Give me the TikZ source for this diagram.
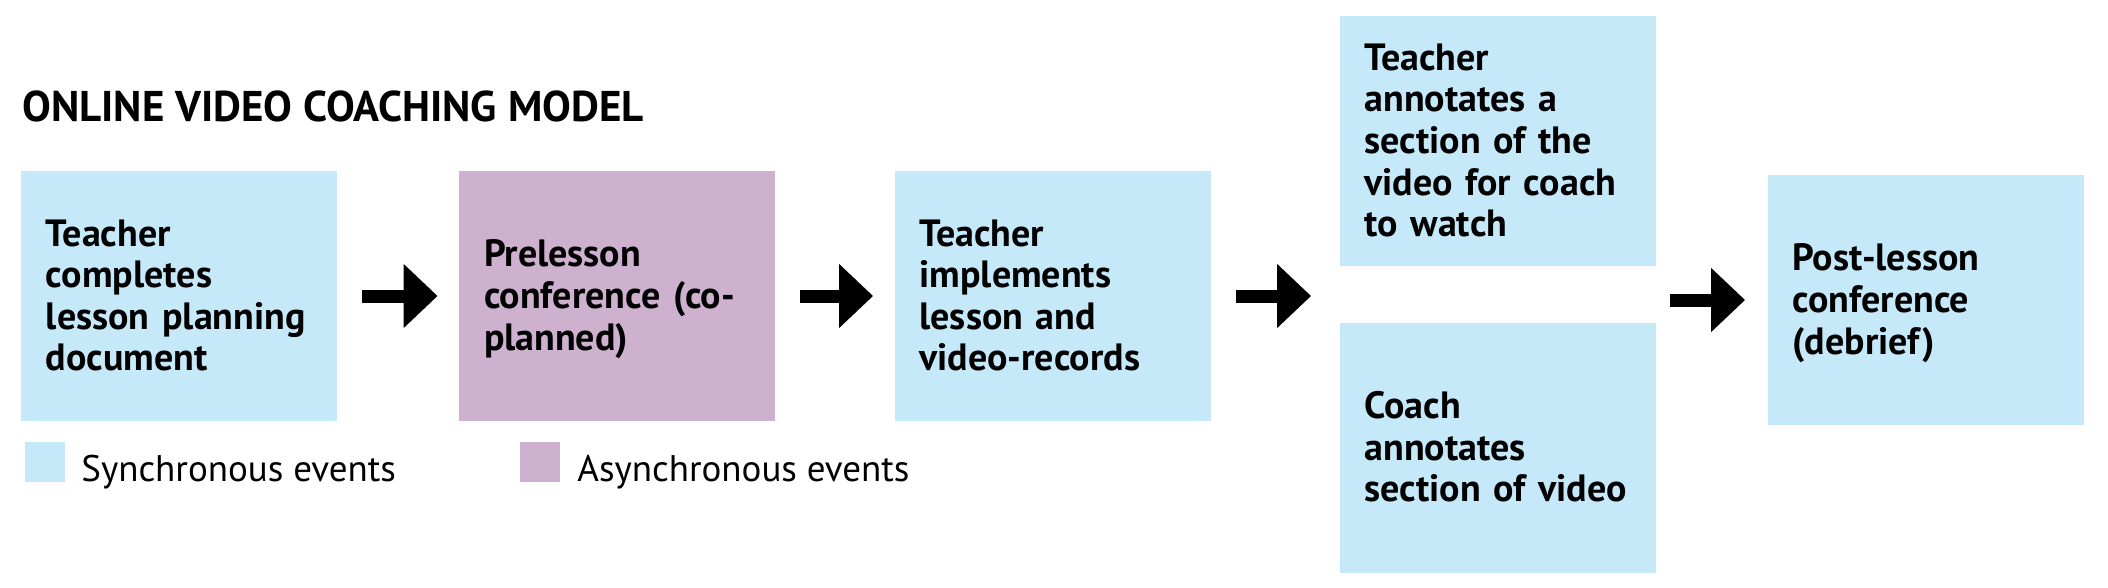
\documentclass[tikz,border=0pt]{standalone}
\usepackage{fontspec}
\setmainfont{PT Sans}
\usetikzlibrary{arrows.meta,positioning,calc}
\definecolor{syncblue}{RGB}{198,233,249}
\definecolor{asyncmauve}{RGB}{205,177,206}
\tikzstyle{stage} = [fill=syncblue, text width=133pt, inner xsep=12.5pt, inner ysep=0pt, minimum height=125pt, align=left, font=\fontsize{19}{20.8}\selectfont\bfseries, text height=12.5pt]
\tikzstyle{keybox} = [minimum size=20pt, inner sep=0pt, anchor=north west]
\tikzstyle{keytext} = [anchor=base west, inner sep=0pt, font=\fontsize{18.5}{20.8}\selectfont]
\tikzstyle{bigarrow} = [line width=6.5pt, -{Triangle[length=17pt,width=31pt]}]

\begin{document}
\begin{tikzpicture}[x=0.5pt, y=-0.5pt]
\useasboundingbox (0,0) rectangle (2108,588);
% Title
\node[anchor=base west, inner sep=0pt, font=\fontsize{21.5}{24}\selectfont\bfseries] (title) at (22,121.5) {ONLINE VIDEO COACHING MODEL};

% Stages of the model
\node[stage, text depth=62.4pt] (plan) at (179,296) {Teacher\\completes\\lesson planning\\document};
\node[stage, fill=asyncmauve, text depth=41.6pt] (conf) at (617,296) {Prelesson\\conference (co-\\planned)};
\node[stage, text depth=62.4pt] (impl) at (1052.5,296) {Teacher\\implements\\lesson and\\video-records};
\node[stage, text depth=83.2pt] (teach) at (1497.5,141) {Teacher\\annotates a\\section of the\\video for coach\\to watch};
\node[stage, text depth=41.6pt] (coach) at (1497.5,447.5) {Coach\\annotates\\section of video};
\node[stage, text depth=41.6pt] (debrief) at (1925.5,300) {Post-lesson\\conference\\(debrief)};

% Arrows
\draw[bigarrow, shorten <=12.5pt, shorten >=10.5pt] (plan) -- (conf);
\draw[bigarrow, shorten <=12.5pt, shorten >=10.5pt] (conf) -- (impl);
\coordinate (split) at (teach.west |- impl.east);
\draw[bigarrow, shorten <=12.5pt, shorten >=14pt] (impl) -- (split);
\coordinate (merge) at (teach.east |- debrief.west);
\draw[bigarrow, shorten <=7pt, shorten >=11pt] (merge) -- (debrief);

% Legend
\node[keybox, fill=syncblue] (synckey) at (25,442) {};
\node[keytext] (synclabel) at (81,481) {Synchronous events};
\node[keybox, fill=asyncmauve] (asynckey) at (520,442) {};
\node[keytext] (asynclabel) at (577,481) {Asynchronous events};
\end{tikzpicture}
\end{document}
